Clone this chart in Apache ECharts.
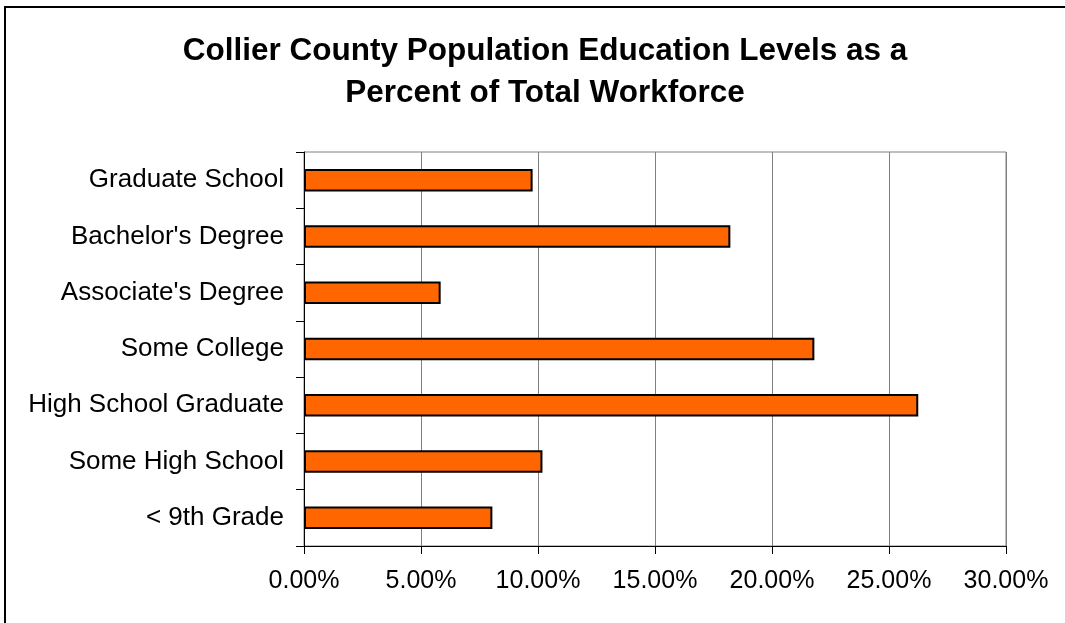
<!DOCTYPE html>
<html>
<head>
<meta charset="utf-8">
<script src="https://cdn.jsdelivr.net/npm/echarts@6/dist/echarts.min.js"></script>
<style>
  html, body { margin: 0; padding: 0; background: #fff; }
  #chart { width: 1065px; height: 623px; }
</style>
</head>
<body>
<div id="chart"></div>
<script>
// categories listed bottom to top
const categories = [
  '< 9th Grade',
  'Some High School',
  'High School Graduate',
  'Some College',
  "Associate's Degree",
  "Bachelor's Degree",
  'Graduate School'
];
const shares = [8.05, 10.19, 26.25, 21.81, 5.84, 18.22, 9.77];

const chart = echarts.init(document.getElementById('chart'));

const option = {
  animation: false,
  backgroundColor: '#fff',
  textStyle: { fontFamily: 'Liberation Sans, Arial, sans-serif' },
  title: {
    text: 'Collier County Population Education Levels as a\nPercent of Total Workforce',
    left: 540,
    top: 25,
    textAlign: 'center',
    textStyle: {
      fontFamily: 'Liberation Sans, Arial, sans-serif',
      fontSize: 31.5,
      fontWeight: 'bold',
      color: '#000',
      lineHeight: 42
    }
  },
  graphic: [{
    type: 'rect',
    shape: { x: 5, y: 7, width: 1200, height: 800 },
    style: { fill: null, stroke: '#000', lineWidth: 2 },
    silent: true
  }],
  grid: {
    left: 304,
    right: 59,
    top: 152,
    bottom: 77,
    show: true,
    borderColor: '#808080',
    borderWidth: 1
  },
  xAxis: {
    type: 'value',
    min: 0,
    max: 30,
    interval: 5,
    axisLine: { show: true, lineStyle: { color: '#000', width: 1 } },
    axisTick: { show: true, length: 8, lineStyle: { color: '#000' } },
    splitLine: { show: true, lineStyle: { color: '#808080', width: 1 } },
    axisLabel: {
      margin: 23,
      fontSize: 25,
      color: '#000',
      formatter: v => v.toFixed(2) + '%'
    }
  },
  yAxis: {
    type: 'category',
    data: categories,
    axisLine: { show: true, lineStyle: { color: '#000', width: 1 } },
    axisTick: { show: true, length: 8, alignWithLabel: false, lineStyle: { color: '#000' } },
    axisLabel: { margin: 20, fontSize: 26, color: '#000' }
  },
  series: [{
    type: 'bar',
    data: shares,
    barWidth: '40%',
    itemStyle: { color: '#FF6600', borderColor: '#000', borderWidth: 2 }
  }]
};

chart.setOption(option);
</script>
</body>
</html>
